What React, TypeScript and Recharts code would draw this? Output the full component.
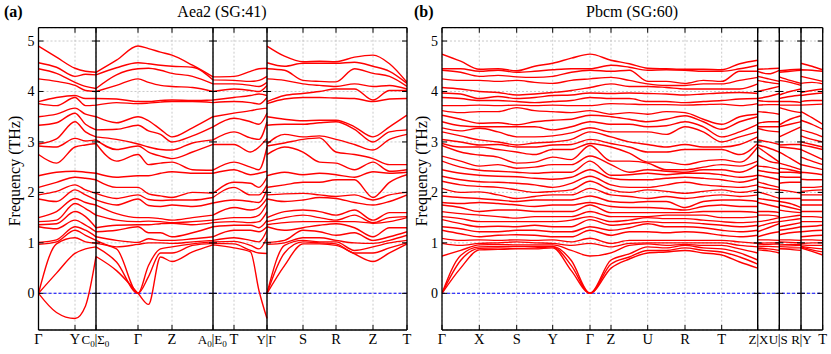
import React from 'react';
import { LineChart, Line, XAxis, YAxis, CartesianGrid, ReferenceLine } from 'recharts';

const FONT = "'Liberation Serif', 'DejaVu Serif', serif";
const RED = '#ff0000';

// frequency axis (THz)
const yMin = -0.727;
const yMax = 5.264;
const yTicks = [0, 1, 2, 3, 4, 5];

// ---------- (a) Aea2 (SG:41) ----------
// path positions of the high-symmetry points
const aTicks = [0, 36.5, 57.5, 99.5, 133.5, 174.5, 195.5, 228.5, 264.5, 297.5, 334.5, 368.5];
const aLabels = ['Γ', 'Y', 'C_0|Σ_0', 'Γ', 'Z', 'A_0|E_0', 'T', 'Y|Γ', 'S', 'R', 'Z', 'T'];
const aBreaks = [57.5, 174.5, 228.5];

// band frequencies at each sampled k-point, highest first
const aG = [4.9, 4.57, 4.45, 4.25, 3.8, 3.76, 3.5, 3.33, 2.96, 2.92, 2.75, 2.33, 2.1, 1.95, 1.87, 1.5, 1.42, 1.36, 1.32, 1.01, 0.97, 0, 0, 0];
const a1 = [4.68, 4.48, 4.36, 4.2, 3.88, 3.72, 3.55, 3.38, 3.06, 2.9, 2.58, 2.4, 2.2, 2.02, 1.82, 1.62, 1.45, 1.38, 1.28, 1.06, 1.02, 0.98, 0.4, -0.38];
const aY = [4.46, 4.3, 4.18, 4.12, 3.92, 3.88, 3.67, 3.57, 3.4, 3.07, 2.9, 2.42, 2.3, 2.15, 2.05, 1.88, 1.78, 1.62, 1.45, 1.32, 1.25, 1.1, 0.79, -0.5];
const a3 = [4.4, 4.34, 4.1, 4.02, 3.86, 3.72, 3.55, 3.35, 3.2, 3.02, 2.94, 2.4, 2.28, 2.05, 1.95, 1.8, 1.68, 1.52, 1.35, 1.25, 1.15, 1.02, 0.88, -0.25];
const aC = [4.38, 4.33, 4.06, 4.0, 3.86, 3.73, 3.5, 3.24, 3.1, 3.04, 2.97, 2.38, 2.25, 1.98, 1.85, 1.75, 1.55, 1.3, 1.22, 1.12, 1.05, 0.99, 0.92, 0.73];
const a6 = [4.62, 4.47, 4.33, 4.12, 3.85, 3.78, 3.38, 3.25, 3.05, 2.85, 2.62, 2.3, 2.1, 1.88, 1.75, 1.58, 1.45, 1.35, 1.25, 1.05, 0.92, 0.88, 0.62, 0.45];
const a8 = [4.85, 4.55, 4.46, 4.18, 3.8, 3.77, 3.42, 3.22, 2.9, 2.8, 2.55, 2.33, 1.97, 1.86, 1.74, 1.5, 1.43, 1.36, 1.2, 1.08, 1.0, 0.55, 0.33, -0.22];
const a9 = [4.78, 4.52, 4.42, 4.12, 3.82, 3.79, 3.25, 3.15, 2.85, 2.72, 2.58, 2.38, 1.93, 1.84, 1.72, 1.48, 1.42, 1.38, 1.2, 1.05, 1.0, 0.88, 0.8, 0.72];
const aZ = [4.72, 4.5, 4.36, 4.1, 3.83, 3.8, 3.1, 3.0, 2.84, 2.67, 2.6, 2.41, 1.9, 1.85, 1.75, 1.45, 1.4, 1.39, 1.12, 1.05, 0.99, 0.92, 0.8, 0.63];
const a11 = [4.52, 4.48, 4.3, 4.08, 3.82, 3.8, 3.28, 3.12, 2.98, 2.8, 2.45, 2.38, 2.0, 1.85, 1.72, 1.5, 1.42, 1.36, 1.2, 1.08, 1.02, 0.98, 0.95, 0.82];
const aA = [4.29, 4.23, 4.15, 4.0, 3.83, 3.78, 3.5, 3.3, 3.04, 2.95, 2.44, 2.38, 1.98, 1.9, 1.79, 1.55, 1.45, 1.4, 1.32, 1.12, 1.05, 1.02, 0.99, 0.96];
const aT = [4.3, 4.22, 4.15, 4.05, 3.88, 3.8, 3.57, 3.47, 3.2, 2.95, 2.6, 2.45, 2.2, 2.1, 1.85, 1.7, 1.5, 1.42, 1.35, 1.25, 1.1, 1.03, 0.98, 0.9];
const a15 = [4.4, 4.2, 4.12, 4.02, 3.92, 3.78, 3.62, 3.4, 3.08, 2.8, 2.5, 2.35, 2.18, 1.95, 1.82, 1.65, 1.5, 1.4, 1.35, 1.25, 1.05, 0.95, 0.85, 0.82];
const a16 = [4.45, 4.22, 4.1, 4.0, 3.95, 3.75, 3.65, 3.35, 3.05, 2.9, 2.45, 2.38, 2.1, 1.95, 1.8, 1.7, 1.55, 1.42, 1.3, 1.22, 1.02, 0.88, 0.8, 0.05];
const a19 = [4.7, 4.5, 4.42, 4.22, 3.92, 3.85, 3.45, 3.35, 3.15, 2.98, 2.9, 2.4, 2.15, 1.97, 1.82, 1.62, 1.5, 1.4, 1.25, 1.05, 1.0, 0.95, 0.8, 0.55];
const aS = [4.59, 4.56, 4.22, 4.15, 3.96, 3.88, 3.42, 3.35, 3.1, 3.05, 2.8, 2.35, 2.2, 1.98, 1.85, 1.65, 1.55, 1.42, 1.3, 1.25, 1.1, 1.05, 1.02, 0.98];
const a21 = [4.6, 4.56, 4.2, 4.12, 4.0, 3.88, 3.43, 3.38, 3.12, 3.08, 2.6, 2.38, 2.2, 1.95, 1.9, 1.62, 1.5, 1.42, 1.35, 1.22, 1.1, 1.02, 1.0, 0.98];
const aR = [4.59, 4.56, 4.19, 4.1, 4.05, 3.87, 3.43, 3.4, 3.05, 2.8, 2.58, 2.35, 2.25, 1.92, 1.88, 1.55, 1.45, 1.42, 1.38, 1.15, 1.05, 1.02, 0.98, 0.95];
const a23 = [4.68, 4.58, 4.45, 4.15, 4.05, 3.86, 3.3, 3.25, 2.95, 2.75, 2.45, 2.3, 2.25, 1.95, 1.8, 1.65, 1.55, 1.42, 1.3, 1.2, 1.0, 0.85, 0.8, 0.78];
const a25 = [4.55, 4.4, 4.3, 4.12, 4.02, 3.85, 3.3, 3.2, 3.05, 2.55, 2.42, 2.38, 2.2, 1.95, 1.82, 1.6, 1.5, 1.42, 1.3, 1.12, 1.05, 1.0, 0.9, 0.8];
const aT2 = [4.18, 4.16, 4.1, 4.05, 4.02, 3.86, 3.53, 3.24, 3.15, 2.55, 2.45, 2.4, 2.35, 2.0, 1.95, 1.6, 1.52, 1.5, 1.3, 1.22, 1.15, 1.05, 1.0, 0.98];

const aPaths = [
  { x: [0, 18, 36.5, 47, 57.5], cols: [aG, a1, aY, a3, aC] },
  { x: [57.5, 78, 99.5, 110, 122, 133.5, 154, 174.5], cols: [aC, a6, aG, a8, a9, aZ, a11, aA] },
  { x: [174.5, 195.5, 212, 220.5, 228.5], cols: [aA, aT, a15, a16, aY] },
  { x: [228.5, 246, 264.5, 281, 297.5, 316, 334.5, 351, 368.5], cols: [aG, a19, aS, a21, aR, a23, aZ, a25, aT2] },
];

// ---------- (b) Pbcm (SG:60) ----------
const bTicks = [0, 37.3, 74.7, 110.7, 148, 169, 205.7, 243, 279.7, 315.7, 337.3, 359, 380.7];
const bLabels = ['Γ', 'X', 'S', 'Y', 'Γ', 'Z', 'U', 'R', 'T', 'Z|X', 'U|S', 'R|Y', 'T'];
const bBreaks = [315.7, 337.3, 359];

const bG = [4.74, 4.45, 4.42, 4.25, 4.08, 3.97, 3.88, 3.72, 3.62, 3.53, 3.4, 3.28, 3.2, 3.05, 2.97, 2.93, 2.72, 2.62, 2.45, 2.32, 2.22, 2.08, 1.93, 1.8, 1.75, 1.62, 1.52, 1.46, 1.32, 1.25, 1.09, 0.99, 0.74, 0, 0, 0];
const b1 = [4.6, 4.45, 4.38, 4.22, 4.05, 3.95, 3.86, 3.72, 3.58, 3.45, 3.32, 3.22, 3.12, 3.0, 2.9, 2.8, 2.62, 2.5, 2.38, 2.25, 2.15, 2.0, 1.9, 1.78, 1.7, 1.58, 1.48, 1.38, 1.28, 1.18, 1.05, 0.95, 0.85, 0.75, 0.65, 0.5];
const bX = [4.44, 4.4, 4.3, 4.22, 4.0, 3.86, 3.82, 3.73, 3.6, 3.37, 3.3, 3.27, 3.04, 2.94, 2.9, 2.74, 2.52, 2.44, 2.34, 2.21, 2.12, 2.01, 1.88, 1.8, 1.62, 1.55, 1.42, 1.32, 1.22, 1.12, 1.06, 0.99, 0.96, 0.92, 0.89, 0.86];
const b3 = [4.45, 4.42, 4.32, 4.2, 3.98, 3.9, 3.82, 3.72, 3.6, 3.38, 3.3, 3.2, 3.0, 2.95, 2.85, 2.7, 2.55, 2.42, 2.32, 2.2, 2.1, 1.95, 1.85, 1.78, 1.65, 1.52, 1.42, 1.33, 1.22, 1.15, 1.05, 1.0, 0.97, 0.93, 0.9, 0.87];
const bS = [4.41, 4.38, 4.29, 4.22, 3.93, 3.86, 3.8, 3.73, 3.68, 3.34, 3.3, 3.1, 2.94, 2.9, 2.8, 2.58, 2.48, 2.4, 2.31, 2.18, 2.05, 1.88, 1.82, 1.75, 1.65, 1.49, 1.42, 1.32, 1.25, 1.16, 1.06, 1.02, 0.96, 0.93, 0.89, 0.88];
const b5 = [4.5, 4.4, 4.28, 4.18, 3.95, 3.88, 3.78, 3.72, 3.62, 3.4, 3.3, 3.1, 2.98, 2.9, 2.75, 2.6, 2.5, 2.38, 2.28, 2.15, 2.0, 1.92, 1.85, 1.72, 1.62, 1.52, 1.42, 1.35, 1.25, 1.15, 1.05, 1.0, 0.96, 0.93, 0.9, 0.88];
const bY = [4.56, 4.43, 4.3, 4.16, 3.98, 3.92, 3.8, 3.73, 3.6, 3.43, 3.24, 3.12, 3.0, 2.94, 2.85, 2.7, 2.55, 2.4, 2.26, 2.1, 2.02, 1.95, 1.85, 1.75, 1.62, 1.52, 1.42, 1.32, 1.22, 1.12, 1.06, 0.99, 0.96, 0.93, 0.92, 0.9];
const b7 = [4.66, 4.45, 4.38, 4.22, 4.02, 3.93, 3.82, 3.72, 3.58, 3.45, 3.3, 3.18, 3.05, 2.95, 2.85, 2.65, 2.55, 2.4, 2.3, 2.18, 2.05, 1.95, 1.85, 1.75, 1.62, 1.52, 1.45, 1.32, 1.22, 1.12, 1.02, 0.95, 0.85, 0.65, 0.55, 0.45];
const bZ = [4.62, 4.52, 4.4, 4.28, 4.15, 3.96, 3.86, 3.76, 3.55, 3.5, 3.35, 3.2, 3.1, 2.97, 2.9, 2.62, 2.55, 2.34, 2.28, 2.15, 2.05, 1.95, 1.82, 1.72, 1.6, 1.52, 1.42, 1.35, 1.25, 1.15, 0.99, 0.92, 0.8, 0.66, 0.58, 0.5];
const b10 = [4.55, 4.48, 4.42, 4.22, 4.1, 3.97, 3.86, 3.75, 3.58, 3.45, 3.35, 3.2, 3.0, 2.9, 2.78, 2.62, 2.4, 2.35, 2.25, 2.1, 2.0, 1.92, 1.8, 1.7, 1.6, 1.52, 1.45, 1.38, 1.3, 1.22, 1.05, 0.99, 0.95, 0.78, 0.72, 0.68];
const bU = [4.46, 4.42, 4.2, 4.15, 4.1, 3.96, 3.8, 3.74, 3.55, 3.4, 3.3, 3.2, 2.95, 2.8, 2.6, 2.58, 2.45, 2.38, 2.25, 2.1, 2.05, 1.88, 1.82, 1.7, 1.6, 1.52, 1.5, 1.42, 1.38, 1.22, 1.05, 1.0, 0.98, 0.92, 0.85, 0.8];
const b12 = [4.45, 4.43, 4.2, 4.12, 4.08, 3.95, 3.8, 3.74, 3.6, 3.45, 3.32, 3.15, 2.9, 2.8, 2.6, 2.45, 2.42, 2.35, 2.28, 2.15, 2.02, 1.92, 1.82, 1.68, 1.6, 1.55, 1.48, 1.4, 1.32, 1.2, 1.05, 1.0, 0.95, 0.9, 0.85, 0.82];
const bR = [4.44, 4.42, 4.16, 4.12, 4.05, 3.93, 3.78, 3.73, 3.58, 3.52, 3.4, 3.3, 2.95, 2.85, 2.55, 2.45, 2.4, 2.38, 2.3, 2.2, 1.98, 1.88, 1.7, 1.65, 1.6, 1.55, 1.48, 1.4, 1.32, 1.22, 1.05, 1.0, 0.97, 0.95, 0.9, 0.85];
const b14 = [4.44, 4.4, 4.22, 4.15, 4.05, 3.95, 3.8, 3.74, 3.45, 3.4, 3.3, 3.2, 2.9, 2.85, 2.62, 2.5, 2.45, 2.38, 2.28, 2.15, 2.02, 1.92, 1.82, 1.72, 1.62, 1.55, 1.45, 1.38, 1.3, 1.2, 1.05, 1.0, 0.95, 0.9, 0.85, 0.8];
const bT = [4.43, 4.4, 4.2, 4.15, 4.05, 3.97, 3.82, 3.75, 3.35, 3.25, 3.1, 3.0, 2.9, 2.85, 2.65, 2.55, 2.45, 2.35, 2.25, 2.12, 2.05, 1.95, 1.85, 1.75, 1.62, 1.5, 1.42, 1.35, 1.25, 1.15, 1.05, 1.0, 0.95, 0.88, 0.82, 0.76];
const b16 = [4.55, 4.45, 4.4, 4.22, 4.05, 3.98, 3.85, 3.72, 3.5, 3.4, 3.2, 3.1, 2.95, 2.75, 2.6, 2.52, 2.4, 2.3, 2.2, 2.1, 2.0, 1.92, 1.85, 1.72, 1.62, 1.5, 1.4, 1.32, 1.22, 1.12, 1.02, 0.95, 0.88, 0.8, 0.72, 0.62];
const bXU = [4.45, 4.35, 4.25, 4.18, 4.05, 3.9, 3.8, 3.74, 3.58, 3.4, 3.3, 3.22, 3.0, 2.88, 2.75, 2.62, 2.5, 2.4, 2.3, 2.15, 2.08, 1.95, 1.85, 1.75, 1.62, 1.55, 1.45, 1.38, 1.3, 1.18, 1.06, 1.0, 0.97, 0.93, 0.88, 0.84];
const bSR = [4.43, 4.4, 4.22, 4.18, 4.0, 3.9, 3.8, 3.73, 3.62, 3.45, 3.35, 3.2, 2.95, 2.88, 2.68, 2.52, 2.45, 2.4, 2.3, 2.2, 2.02, 1.88, 1.78, 1.7, 1.62, 1.52, 1.45, 1.36, 1.28, 1.2, 1.06, 1.01, 0.97, 0.94, 0.9, 0.87];
const bYT = [4.5, 4.42, 4.25, 4.18, 4.02, 3.95, 3.82, 3.74, 3.48, 3.35, 3.18, 3.05, 2.95, 2.9, 2.75, 2.62, 2.5, 2.38, 2.25, 2.1, 2.04, 1.95, 1.85, 1.75, 1.62, 1.52, 1.42, 1.33, 1.24, 1.14, 1.06, 1.0, 0.95, 0.9, 0.86, 0.83];

const bPaths = [
  {
    x: [0, 18.6, 37.3, 56, 74.7, 92.7, 110.7, 129.3, 148, 169, 187.3, 205.7, 224.3, 243, 261.3, 279.7, 297.7, 315.7],
    cols: [bG, b1, bX, b3, bS, b5, bY, b7, bG, bZ, b10, bU, b12, bR, b14, bT, b16, bZ],
  },
  { x: [315.7, 326.5, 337.3], cols: [bX, bXU, bU] },
  { x: [337.3, 348, 359], cols: [bS, bSR, bR] },
  { x: [359, 370, 380.7], cols: [bY, bYT, bT] },
];

type Path = { x: number[]; cols: number[][] };

// one row per k-point, a null row between disconnected path pieces
function buildRows(paths: Path[], n: number) {
  const rows: Record<string, number | null>[] = [];
  paths.forEach((p, pi) => {
    if (pi > 0) {
      const gap: Record<string, number | null> = { x: p.x[0] };
      for (let b = 0; b < n; b++) gap['b' + b] = null;
      rows.push(gap);
    }
    p.x.forEach((x, i) => {
      const row: Record<string, number | null> = { x };
      p.cols[i].forEach((v, b) => (row['b' + b] = v));
      rows.push(row);
    });
  });
  return rows;
}

function Sym({ text, x, y, anchor, size }: { text: string; x: number; y: number; anchor: string; size: number }) {
  const [main, sub] = text.split('_');
  return (
    <text x={x} y={y} textAnchor={anchor as any} fontFamily={FONT} fontSize={size} fill="#000">
      {main}
      {sub && (
        <tspan fontSize={size * 0.7} dy={3}>
          {sub}
        </tspan>
      )}
    </text>
  );
}

function makeXTick(ticks: number[], labels: string[]) {
  return (props: any) => {
    const { x, y, payload } = props;
    const s = labels[ticks.indexOf(payload.value)] ?? '';
    const by = y + 14.3;
    if (s.includes('|')) {
      const [l, r] = s.split('|');
      return (
        <g>
          <Sym text={l} x={x - 1.2} y={by} anchor="end" size={13} />
          <text x={x} y={by} textAnchor="middle" fontFamily={FONT} fontSize={14.5} fill="#000">|</text>
          <Sym text={r} x={x + 1.2} y={by} anchor="start" size={13} />
        </g>
      );
    }
    return <Sym text={s} x={x} y={by} anchor="middle" size={14.5} />;
  };
}

function yTick(props: any) {
  const { x, y, payload } = props;
  return (
    <text x={x - 4} y={y + 5} textAnchor="end" fontFamily={FONT} fontSize={14} fill="#000">
      {payload.value}
    </text>
  );
}

type PanelProps = {
  width: number;
  left: number;
  right: number;
  ticks: number[];
  labels: string[];
  breaks: number[];
  paths: Path[];
};

const TICK_PX = 5;

function BandPanel({ width, left, right, ticks, labels, breaks, paths }: PanelProps) {
  const n = paths[0].cols[0].length;
  const rows = buildRows(paths, n);
  const xMax = ticks[ticks.length - 1];
  const plotH = 354 - 27.7 - 24;
  const yPerPx = (yMax - yMin) / plotH;
  const xPerPx = xMax / (width - left - right);
  const ty = TICK_PX * yPerPx;
  const tx = TICK_PX * xPerPx;
  const blk = { stroke: '#000', strokeWidth: 1 };
  return (
    <LineChart width={width} height={354} data={rows} margin={{ top: 27.7, right, bottom: 0, left: 0 }}>
      <CartesianGrid stroke="#bdbdbd" strokeDasharray="2 2" strokeWidth={0.8} />
      <XAxis
        dataKey="x"
        type="number"
        domain={[0, xMax]}
        ticks={ticks}
        interval={0}
        allowDataOverflow
        height={24}
        tickSize={0}
        tickMargin={0}
        tickLine={false}
        axisLine={false}
        tick={makeXTick(ticks, labels)}
      />
      <YAxis
        type="number"
        domain={[yMin, yMax]}
        ticks={yTicks}
        interval={0}
        allowDataOverflow
        width={left}
        tickSize={0}
        tickMargin={0}
        tickLine={false}
        axisLine={false}
        tick={yTick}
      />
      <ReferenceLine y={0} stroke="#0000ff" strokeDasharray="3 2" strokeWidth={1.1} />
      {Array.from({ length: n }, (_, b) => (
        <Line
          key={b}
          dataKey={'b' + b}
          type="monotone"
          stroke={RED}
          strokeWidth={1.4}
          dot={false}
          activeDot={false}
          isAnimationActive={false}
        />
      ))}
      {breaks.map((p) => (
        <ReferenceLine key={'v' + p} x={p} stroke="#000" strokeWidth={1.4} />
      ))}
      {breaks.map((p) =>
        yTicks.map((v) => (
          <ReferenceLine key={'c' + p + '-' + v} segment={[{ x: p - 4 * xPerPx, y: v }, { x: p + 4 * xPerPx, y: v }]} {...blk} />
        ))
      )}
      {ticks.map((t) => (
        <ReferenceLine key={'tb' + t} segment={[{ x: t, y: yMin }, { x: t, y: yMin + ty }]} {...blk} />
      ))}
      {ticks.map((t) => (
        <ReferenceLine key={'tt' + t} segment={[{ x: t, y: yMax }, { x: t, y: yMax - ty }]} {...blk} />
      ))}
      {yTicks.map((v) => (
        <ReferenceLine key={'tl' + v} segment={[{ x: 0, y: v }, { x: tx, y: v }]} {...blk} />
      ))}
      {yTicks.map((v) => (
        <ReferenceLine key={'tr' + v} segment={[{ x: xMax - tx, y: v }, { x: xMax, y: v }]} {...blk} />
      ))}
      <ReferenceLine x={0} stroke="#000" strokeWidth={1.3} />
      <ReferenceLine x={xMax} stroke="#000" strokeWidth={1.3} />
      <ReferenceLine y={yMin} stroke="#000" strokeWidth={1.3} />
      <ReferenceLine y={yMax} stroke="#000" strokeWidth={1.3} />
    </LineChart>
  );
}

export default function App() {
  return (
    <div style={{ position: 'absolute', left: 0, top: 0, width: 831, height: 354, background: '#fff' }}>
      <div style={{ position: 'absolute', left: 0, top: 0 }}>
        <BandPanel width={415} left={38.5} right={8} ticks={aTicks} labels={aLabels} breaks={aBreaks} paths={aPaths} />
      </div>
      <div style={{ position: 'absolute', left: 415, top: 0 }}>
        <BandPanel width={416} left={27} right={8.3} ticks={bTicks} labels={bLabels} breaks={bBreaks} paths={bPaths} />
      </div>
      <svg width={831} height={354} style={{ position: 'absolute', left: 0, top: 0, pointerEvents: 'none' }}>
        <g fontFamily={FONT} fill="#000">
          <text x={4} y={16.5} fontSize={16} fontWeight="bold">(a)</text>
          <text x={222} y={16.5} fontSize={16} textAnchor="middle">Aea2 (SG:41)</text>
          <text transform="translate(19.5,171) rotate(-90)" fontSize={16} textAnchor="middle">Frequency (THz)</text>
          <text x={414} y={16.5} fontSize={16} fontWeight="bold">(b)</text>
          <text x={632} y={16.5} fontSize={16} textAnchor="middle">Pbcm (SG:60)</text>
          <text transform="translate(427,171) rotate(-90)" fontSize={16} textAnchor="middle">Frequency (THz)</text>
        </g>
      </svg>
    </div>
  );
}
